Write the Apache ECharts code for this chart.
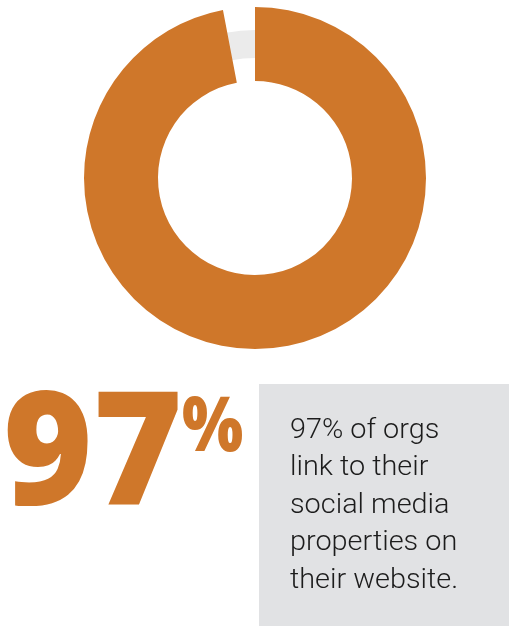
<!DOCTYPE html>
<html>
<head>
<meta charset="utf-8">
<style>
  html, body { margin: 0; padding: 0; background: #ffffff; }
  #chart { width: 509px; height: 626px; }
</style>
<script src="https://cdn.jsdelivr.net/npm/echarts@6/dist/echarts.min.js"></script>
</head>
<body>
<div id="chart"></div>
<script>
// Share of organisations linking to their social media properties
const shareLabels = ['Link to social media', 'Do not link'];
const shareValues = [97, 3];
const headline = '97';
const headlineUnit = '%';
const captionLines = ['97% of orgs', 'link to their', 'social media', 'properties on', 'their website.'];

const ORANGE = '#cf772a';
const TRACK = '#ebebeb';
const PANEL = '#e1e2e4';

const chart = echarts.init(document.getElementById('chart'), null, { renderer: 'canvas' });

chart.setOption({
  backgroundColor: '#ffffff',
  animation: false,
  series: [
    {
      // thin grey track behind the ring
      type: 'pie',
      silent: true,
      center: [255, 178],
      radius: [120, 148],
      label: { show: false },
      labelLine: { show: false },
      data: [{ value: 1, itemStyle: { color: TRACK } }]
    },
    {
      type: 'pie',
      silent: true,
      center: [255, 178],
      radius: [97, 171],
      startAngle: 90,
      clockwise: true,
      label: { show: false },
      labelLine: { show: false },
      data: shareValues.map((v, i) => ({
        name: shareLabels[i],
        value: v,
        itemStyle: { color: i === 0 ? ORANGE : 'rgba(0,0,0,0)' }
      }))
    }
  ],
  graphic: [
    {
      type: 'text',
      x: 3,
      y: 381,
      scaleX: 0.97,
      style: {
        text: headline,
        font: '800 158px "Open Sans"',
        fill: ORANGE
      }
    },
    {
      type: 'text',
      x: 182,
      y: 391,
      scaleX: 0.85,
      style: {
        text: headlineUnit,
        font: '800 76px "Open Sans"',
        fill: ORANGE
      }
    },
    {
      type: 'rect',
      shape: { x: 259, y: 384, width: 250, height: 242 },
      style: { fill: PANEL }
    },
    {
      type: 'text',
      x: 290,
      y: 412,
      scaleX: 1.03,
      style: {
        text: captionLines.join('\n'),
        font: '300 28px Roboto',
        lineHeight: 37.5,
        fill: '#1c1c1c'
      }
    }
  ]
});
</script>
</body>
</html>
